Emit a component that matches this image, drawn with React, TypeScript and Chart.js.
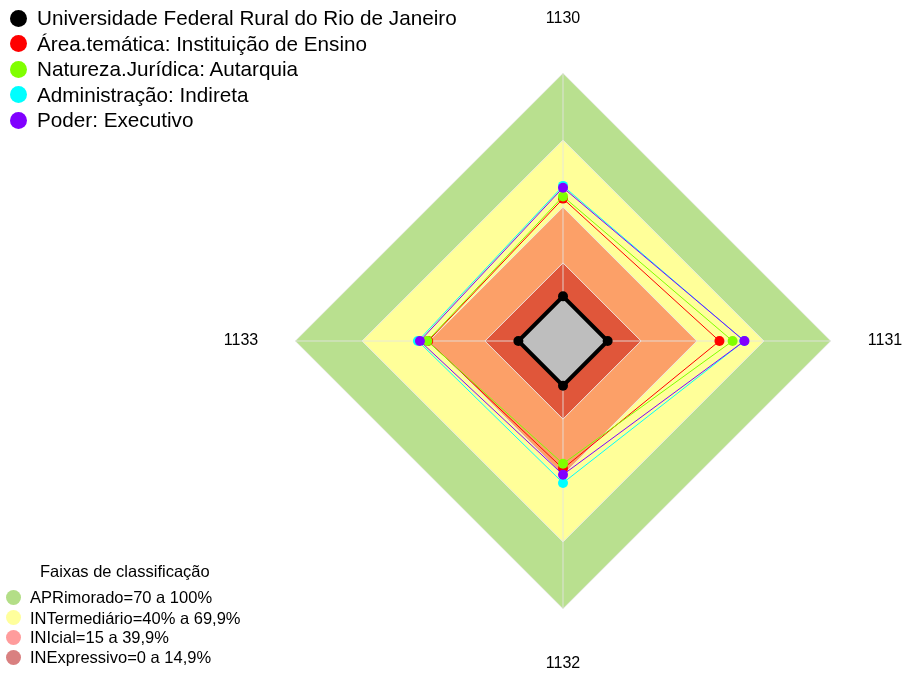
import React, { useEffect, useRef } from "react";
import { Chart, registerables } from "chart.js";

Chart.register(...registerables);

const axisLabels = ["1130", "1131", "1132", "1133"];

const bandLimits = [100, 70, 40, 15];
const bandColors = ["#B9E08F", "#FFFF99", "#FCA068", "#E0563A"];
const bandNames = [
  "APRimorado=70 a 100%",
  "INTermediário=40% a 69,9%",
  "INIcial=15 a 39,9%",
  "INExpressivo=0 a 14,9%",
];
const bandLegendColors = ["#B3DE87", "#FFFF9C", "#FF9C9C", "#D98080"];
const bandLegendTitle = "Faixas de classificação";

const seriesNames = [
  "Universidade Federal Rural do Rio de Janeiro",
  "Área.temática: Instituição de Ensino",
  "Natureza.Jurídica: Autarquia",
  "Administração: Indireta",
  "Poder: Executivo",
];
const ufrrj = [0, 0, 0, 0];
const areaTematica = [43.8, 50.1, 37.2, 40.4];
const naturezaJuridica = [44.8, 56.0, 35.0, 40.8];
const administracao = [49.5, 61.2, 43.6, 45.0];
const poder = [48.7, 61.3, 39.9, 44.1];
const seriesValues = [ufrrj, areaTematica, naturezaJuridica, administracao, poder];
const seriesColors = ["#000000", "#FF0000", "#80FF00", "#00FFFF", "#8000FF"];

const FONT = "'Liberation Sans', Arial, Helvetica, sans-serif";

const angleLinePlugin = {
  id: "bandAngleLines",
  afterDatasetDraw(chart: any, args: any) {
    if (args.index !== bandLimits.length - 1) return;
    const scale = chart.scales.r;
    const ctx = chart.ctx;
    ctx.save();
    ctx.strokeStyle = "rgba(228,228,228,0.85)";
    ctx.lineWidth = 1;
    for (let i = 0; i < axisLabels.length; i++) {
      const p = scale.getPointPositionForValue(i, scale.max);
      ctx.beginPath();
      ctx.moveTo(scale.xCenter, scale.yCenter);
      ctx.lineTo(p.x, p.y);
      ctx.stroke();
    }
    ctx.restore();
  },
};

export default function App() {
  const canvasRef = useRef<HTMLCanvasElement | null>(null);

  useEffect(() => {
    if (!canvasRef.current) return;
    const bandDatasets = bandLimits.map((v, i) => ({
      label: bandNames[i],
      data: axisLabels.map(() => v),
      backgroundColor: bandColors[i],
      borderColor: "rgba(236,236,236,0.9)",
      borderWidth: 1,
      pointRadius: 0,
      fill: "start",
      order: 20 - i,
    }));
    const seriesDatasets = seriesValues.map((vals, i) => ({
      label: seriesNames[i],
      data: vals,
      borderColor: seriesColors[i],
      backgroundColor: i === 0 ? "#BEBEBE" : "transparent",
      borderWidth: i === 0 ? 4 : 1,
      pointRadius: 5,
      pointBorderWidth: 0,
      pointBackgroundColor: seriesColors[i],
      pointBorderColor: seriesColors[i],
      fill: i === 0 ? "start" : false,
      order: 10 - i,
    }));
    const chart = new Chart(canvasRef.current, {
      type: "radar",
      data: {
        labels: axisLabels,
        datasets: [...bandDatasets, ...seriesDatasets] as any,
      },
      options: {
        animation: false,
        responsive: false,
        maintainAspectRatio: false,
        events: [],
        layout: { padding: { left: 222, right: 1, top: 9, bottom: 1 } },
        elements: { line: { tension: 0 } },
        plugins: {
          legend: { display: false },
          tooltip: { enabled: false },
        },
        scales: {
          r: {
            min: -20,
            max: 100,
            ticks: { display: false },
            grid: { display: false },
            angleLines: { display: false },
            pointLabels: {
              display: true,
              color: "#000000",
              font: { size: 16, family: FONT },
              padding: (ctx: any) => (ctx.index % 2 === 0 ? 45 : 37),
            },
          },
        },
      } as any,
      plugins: [angleLinePlugin],
    });
    return () => chart.destroy();
  }, []);

  const topRowCenters = [18.3, 43.9, 69.4, 94.8, 120.2];
  const bottomRowCenters = [597.4, 617.6, 637.4, 657.2];

  return (
    <div style={{ position: "absolute", left: 0, top: 0, width: 905, height: 675, background: "#fff" }}>
      <canvas ref={canvasRef} width={905} height={675} style={{ display: "block", position: "absolute", left: 0, top: 0 }} />
      {seriesNames.map((name, i) => (
        <div
          key={name}
          style={{
            position: "absolute",
            left: 0,
            top: topRowCenters[i] - 13,
            height: 26,
            lineHeight: "26px",
            display: "flex",
            alignItems: "center",
            fontFamily: FONT,
            fontSize: 20.7,
            color: "#000",
            whiteSpace: "nowrap",
          }}
        >
          <span
            style={{
              display: "inline-block",
              width: 17,
              height: 17,
              borderRadius: "50%",
              background: seriesColors[i],
              marginLeft: 10,
              marginRight: 10,
            }}
          />
          <span>{name}</span>
        </div>
      ))}
      <div
        style={{
          position: "absolute",
          left: 40,
          top: 571.3 - 11,
          height: 22,
          lineHeight: "22px",
          fontFamily: FONT,
          fontSize: 16.5,
          color: "#000",
          whiteSpace: "nowrap",
        }}
      >
        {bandLegendTitle}
      </div>
      {bandNames.map((name, i) => (
        <div
          key={name}
          style={{
            position: "absolute",
            left: 0,
            top: bottomRowCenters[i] - 10,
            height: 20,
            lineHeight: "20px",
            display: "flex",
            alignItems: "center",
            fontFamily: FONT,
            fontSize: 16.5,
            color: "#000",
            whiteSpace: "nowrap",
          }}
        >
          <span
            style={{
              display: "inline-block",
              width: 15,
              height: 15,
              borderRadius: "50%",
              background: bandLegendColors[i],
              marginLeft: 6,
              marginRight: 9,
            }}
          />
          <span>{name}</span>
        </div>
      ))}
    </div>
  );
}
